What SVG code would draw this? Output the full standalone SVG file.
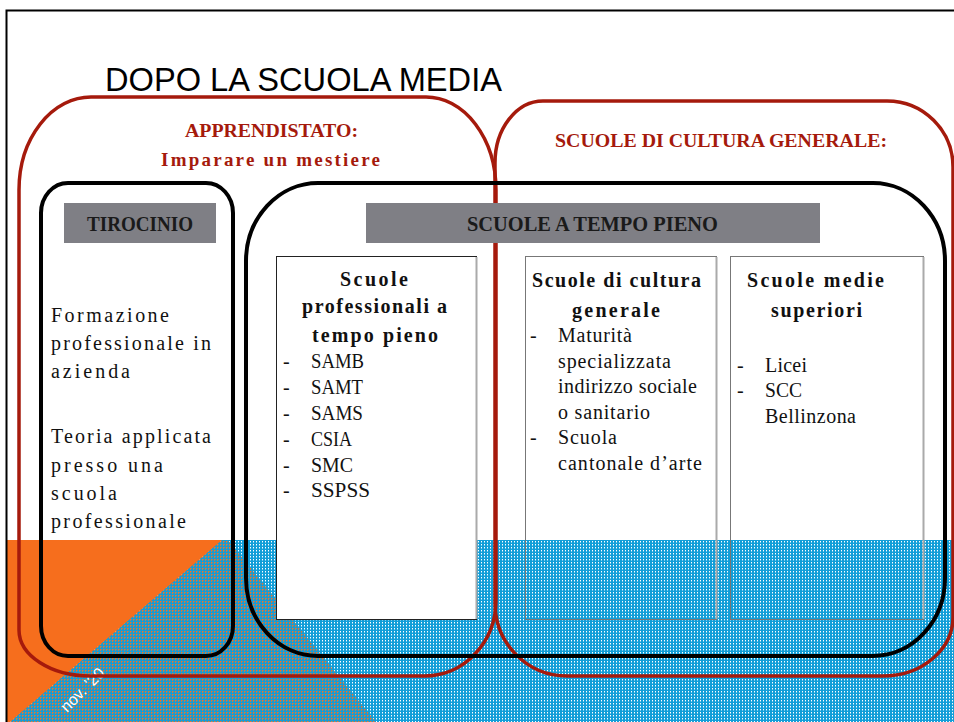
<svg xmlns="http://www.w3.org/2000/svg" width="954" height="722" viewBox="0 0 954 722">
<defs>
<pattern id="blueDots" width="3" height="3" patternUnits="userSpaceOnUse">
<rect width="3" height="3" fill="#129ed8"/>
<rect x="1" y="1" width="1" height="1" fill="#ffffff"/>
<rect x="1" y="2" width="1" height="1" fill="#ffffff" opacity="0.45"/>
</pattern>
<pattern id="mixDots" width="3" height="3" patternUnits="userSpaceOnUse">
<rect width="3" height="3" fill="#1a9bd2"/>
<rect x="1" y="1" width="1" height="1" fill="#ee7526"/>
<rect x="1" y="2" width="1" height="1" fill="#d87a3c" opacity="0.8"/>
<rect x="2" y="1" width="1" height="1" fill="#c88050" opacity="0.6"/>
</pattern>
<style>
.red{fill:none;stroke:#a51a0c;stroke-width:3.5}
.blk{fill:none;stroke:#000;stroke-width:4}
.hdr{fill:#7f7f85}
.rt{font-family:"Liberation Serif",serif;font-weight:bold;font-size:19px;fill:#a51a0c}
.ht{font-family:"Liberation Serif",serif;font-weight:bold;font-size:22px;fill:#1a1a1a}
.bt{font-family:"Liberation Serif",serif;font-weight:bold;font-size:20px;fill:#111}
.t{font-family:"Liberation Serif",serif;font-size:20px;fill:#111}
</style>
</defs>
<g id="background">
<rect width="954" height="722" fill="#ffffff"/>
<rect x="7" y="540" width="947" height="182" fill="url(#blueDots)"/>
<polygon points="222,540 228,540 376,722 10,722" fill="url(#mixDots)"/>
<polygon points="7,540 222,540 10,722 7,722" fill="#f66e1d"/>
<path d="M6.5 722 V10.5 H954" fill="none" stroke="#000" stroke-width="2"/>
<text transform="translate(67,713) rotate(-45)" font-family="Liberation Sans, sans-serif" font-size="16" fill="#ffffff">nov. ’20</text>
</g>
<g id="title">
<text x="105" y="91" font-family="Liberation Sans, sans-serif" font-size="34" fill="#000" textLength="397" lengthAdjust="spacingAndGlyphs">DOPO LA SCUOLA MEDIA</text>
</g>
<g id="apprendistato">
<path class="red" d="M91 97 H426 A70 93 0 0 1 496 190 V600 A71 76 0 0 1 425 676 H90 A71 46 0 0 1 19 630 V190 A72 93 0 0 1 91 97 Z"/>
<text class="rt" x="185" y="137" textLength="173" lengthAdjust="spacingAndGlyphs">APPRENDISTATO:</text>
<text class="rt" x="161" y="166" font-size="20" textLength="219" lengthAdjust="spacing">Imparare un mestiere</text>
</g>
<g id="cultura-generale">
<path class="red" d="M543 101 H887 A66 66 0 0 1 953 167 V617 A70 59 0 0 1 883 676 H567 A72 73 0 0 1 495 603 V163 A48 62 0 0 1 543 101 Z"/>
<text class="rt" x="555" y="147" textLength="332" lengthAdjust="spacingAndGlyphs">SCUOLE DI CULTURA GENERALE:</text>
</g>
<g id="tirocinio">
<rect class="blk" x="41" y="183" width="192" height="473" rx="27" ry="30"/>
<rect class="hdr" x="64" y="203" width="152" height="40"/>
<text class="ht" x="87" y="231" textLength="106" lengthAdjust="spacingAndGlyphs">TIROCINIO</text>
<g class="t">
<text x="51" y="322" textLength="118" lengthAdjust="spacing">Formazione</text>
<text x="51" y="350" textLength="160" lengthAdjust="spacing">professionale in</text>
<text x="51" y="378" textLength="79" lengthAdjust="spacing">azienda</text>
<text x="51" y="443" textLength="160" lengthAdjust="spacing">Teoria applicata</text>
<text x="51" y="472" textLength="112" lengthAdjust="spacing">presso una</text>
<text x="51" y="500" textLength="66" lengthAdjust="spacing">scuola</text>
<text x="51" y="528" textLength="135" lengthAdjust="spacing">professionale</text>
</g>
</g>
<g id="tempo-pieno">
<rect class="blk" x="246" y="183" width="699" height="473" rx="72" ry="78"/>
<rect class="hdr" x="366" y="203" width="454" height="40"/>
<text class="ht" x="467" y="231" textLength="251" lengthAdjust="spacingAndGlyphs">SCUOLE A TEMPO PIENO</text>
</g>
<g id="box-professionali">
<rect x="276.5" y="256.5" width="200" height="363" fill="#ffffff" stroke="#222" stroke-width="1"/>
<line x1="476.5" y1="257" x2="476.5" y2="619" stroke="#aaa" stroke-width="2"/>
<text class="bt" x="340" y="286" textLength="68" lengthAdjust="spacing">Scuole</text>
<text class="bt" x="302" y="313" textLength="145" lengthAdjust="spacing">professionali a</text>
<text class="bt" x="312" y="342" textLength="126" lengthAdjust="spacing">tempo pieno</text>
<g class="t">
<text x="283" y="368">-</text><text x="311" y="368" textLength="53" lengthAdjust="spacingAndGlyphs">SAMB</text>
<text x="283" y="394">-</text><text x="311" y="394" textLength="52" lengthAdjust="spacingAndGlyphs">SAMT</text>
<text x="283" y="420">-</text><text x="311" y="420" textLength="52" lengthAdjust="spacingAndGlyphs">SAMS</text>
<text x="283" y="446">-</text><text x="311" y="446" textLength="41" lengthAdjust="spacingAndGlyphs">CSIA</text>
<text x="283" y="472">-</text><text x="311" y="472" textLength="42" lengthAdjust="spacingAndGlyphs">SMC</text>
<text x="283" y="497">-</text><text x="311" y="497" textLength="59" lengthAdjust="spacingAndGlyphs">SSPSS</text>
</g>
</g>
<g id="box-cultura">
<rect x="525.5" y="256.5" width="191" height="363" fill="none" stroke="#777" stroke-width="1"/>
<line x1="716.5" y1="257" x2="716.5" y2="619" stroke="#aaa" stroke-width="2"/>
<text class="bt" x="532" y="287" textLength="169" lengthAdjust="spacing">Scuole di cultura</text>
<text class="bt" x="572" y="317" textLength="88" lengthAdjust="spacing">generale</text>
<g class="t">
<text x="530" y="342">-</text><text x="558" y="342" textLength="74" lengthAdjust="spacing">Maturità</text>
<text x="558" y="368" textLength="113" lengthAdjust="spacing">specializzata</text>
<text x="558" y="393" textLength="139" lengthAdjust="spacing">indirizzo sociale</text>
<text x="558" y="419" textLength="92" lengthAdjust="spacing">o sanitario</text>
<text x="530" y="444">-</text><text x="558" y="444" textLength="59" lengthAdjust="spacing">Scuola</text>
<text x="558" y="470" textLength="144" lengthAdjust="spacing">cantonale d’arte</text>
</g>
</g>
<g id="box-medie">
<rect x="730.5" y="256.5" width="193" height="363" fill="none" stroke="#777" stroke-width="1"/>
<line x1="923.5" y1="257" x2="923.5" y2="619" stroke="#aaa" stroke-width="2"/>
<text class="bt" x="747" y="287" textLength="137" lengthAdjust="spacing">Scuole medie</text>
<text class="bt" x="771" y="317" textLength="91" lengthAdjust="spacing">superiori</text>
<g class="t">
<text x="737" y="372">-</text><text x="765" y="372" textLength="42" lengthAdjust="spacing">Licei</text>
<text x="737" y="397">-</text><text x="765" y="397" textLength="37" lengthAdjust="spacingAndGlyphs">SCC</text>
<text x="765" y="423" textLength="91" lengthAdjust="spacing">Bellinzona</text>
</g>
</g>
<g id="connectors"></g>
</svg>
